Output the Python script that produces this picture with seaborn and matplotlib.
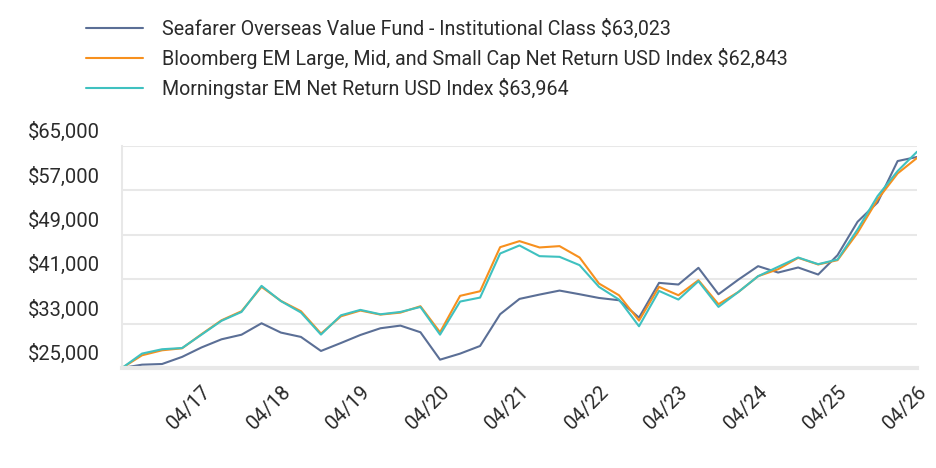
import seaborn as sns
import matplotlib.pyplot as plt
import matplotlib.dates as mdates
from matplotlib.ticker import FuncFormatter
from matplotlib.transforms import ScaledTranslation
import pandas as pd

# quarterly values, 04/2016 .. 04/2026
dates = pd.date_range('2016-04-30', periods=41, freq='3ME')

seafarer = [25000, 25600, 25720, 27000, 28700, 30170, 31000, 33060, 31380, 30600,
            28070, 29510, 30950, 32160, 32640, 31440, 26500, 27590, 28970, 34690,
            37450, 38230, 38950, 38290, 37620, 37210, 34080, 40340, 40040, 43050,
            38290, 40940, 43350, 42200, 43110, 41840, 45330, 51350, 54830, 62290,
            63023]
bloomberg = [25000, 27290, 28190, 28550, 31080, 33600, 35230, 39620, 37090, 35230,
             31200, 34320, 35350, 34620, 34980, 36130, 31440, 38000, 38830, 46770,
             47860, 46720, 46960, 44910, 40220, 38110, 33540, 39620, 38110, 40820,
             36490, 38710, 41540, 42800, 44850, 43650, 44430, 49360, 55370, 60060,
             62843]
morningstar = [25000, 27600, 28380, 28600, 31000, 33500, 35100, 39800, 37050, 35000,
               31020, 34500, 35470, 34680, 35100, 36000, 31010, 36970, 37690, 45630,
               47080, 45150, 45030, 43530, 39620, 37330, 32520, 38890, 37330, 40640,
               36010, 38710, 41540, 43230, 44910, 43710, 44550, 49960, 55980, 60490,
               63964]

names = ['Seafarer Overseas Value Fund - Institutional Class $63,023',
         'Bloomberg EM Large, Mid, and Small Cap Net Return USD Index $62,843',
         'Morningstar EM Net Return USD Index $63,964']
colors = ['#5b6f96', '#f7901e', '#3fc1c0']
yticks = [25000, 33000, 41000, 49000, 57000, 65000]

df = pd.concat([
    pd.DataFrame({'date': dates, 'value': vals, 'series': n})
    for n, vals in zip(names, [seafarer, bloomberg, morningstar])
])

sns.set_theme(style='white')
plt.rcParams['font.family'] = ['Roboto', 'DejaVu Sans']
txt = '#2b2b2b'
fs = 14.5

fig = plt.figure(figsize=(9.36, 4.68), dpi=100)
ax = fig.add_axes([122 / 936, 1 - 368 / 468, 795 / 936, 222 / 468])

sns.lineplot(data=df, x='date', y='value', hue='series', palette=colors,
             hue_order=names, linewidth=1.5, ax=ax, legend=False)

ax.set_xlim(dates[0], dates[-1])
ax.set_ylim(25000, 65000)
ax.set_yticks(yticks)
ax.yaxis.set_major_formatter(FuncFormatter(lambda v, p: f'${v:,.0f}'))
ax.grid(axis='y', color='#e8e8e8', linewidth=1.5)
ax.set_xlabel('')
ax.set_ylabel('')

xt = pd.date_range('2017-04-30', periods=10, freq='12ME')
ax.set_xticks(xt)
ax.xaxis.set_major_formatter(mdates.DateFormatter('%m/%y'))

for s in ['top', 'right']:
    ax.spines[s].set_visible(False)
ax.spines['left'].set_color('#e8e8e8')
ax.spines['left'].set_linewidth(1.5)
ax.spines['bottom'].set_color('#e8e8e8')
ax.spines['bottom'].set_linewidth(3)

ax.tick_params(axis='y', length=0, pad=16, labelsize=fs, labelcolor=txt)
ax.tick_params(axis='x', length=0, pad=10, labelsize=fs, labelcolor=txt)
for lab in ax.get_xticklabels():
    lab.set_rotation(45)
    lab.set_ha('right')
    lab.set_rotation_mode('anchor')
off = ScaledTranslation(0, 0.16, fig.dpi_scale_trans)
for lab in ax.get_yticklabels():
    lab.set_transform(lab.get_transform() + off)

handles = [plt.Line2D([], [], color=c, linewidth=1.5) for c in colors]
fig.legend(handles, names, loc='upper left', bbox_to_anchor=(68 / 936, 1 - 1 / 468),
           frameon=False, fontsize=14.1, handlelength=2.95, handletextpad=0.97,
           labelspacing=0.47, labelcolor=txt)

fig.savefig('out.png', dpi=100)
